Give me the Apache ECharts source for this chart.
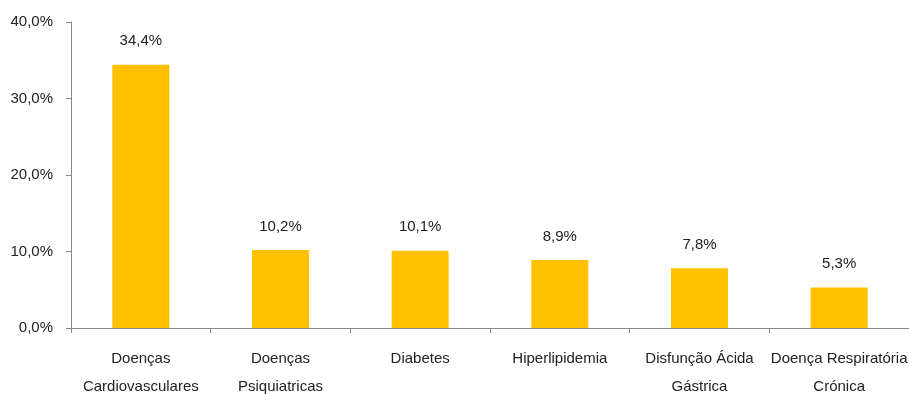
<!DOCTYPE html>
<html>
<head>
<meta charset="utf-8">
<script src="https://cdn.jsdelivr.net/npm/echarts@6/dist/echarts.min.js"></script>
<style>
  html, body { margin: 0; padding: 0; background: #fff; overflow: hidden; }
  #chart { width: 909px; height: 394px; }
</style>
</head>
<body>
<div id="chart"></div>
<script>
// Disease categories (two-line labels) and their shares in percent
const categories = [
  'Doenças\nCardiovasculares',
  'Doenças\nPsiquiatricas',
  'Diabetes',
  'Hiperlipidemia',
  'Disfunção Ácida\nGástrica',
  'Doença Respiratória\nCrónica'
];
const values = [34.4, 10.2, 10.1, 8.9, 7.8, 5.3];
const yTicks = [0, 10, 20, 30, 40];

const FONT = "'Liberation Sans Narrow', 'Arial Narrow', 'Liberation Sans', Arial, sans-serif";
const pct = v => v.toFixed(1).replace('.', ',') + '%';

const chart = echarts.init(document.getElementById('chart'), null, { width: 909, height: 394 });
chart.setOption({
  animation: false,
  grid: {
    left: 71, right: 0, top: 22, bottom: 66,
    containLabel: false,
    outerBoundsMode: 'none'
  },
  xAxis: {
    type: 'category',
    data: categories,
    axisLine: { lineStyle: { color: '#888888', width: 1 } },
    axisTick: { show: true, length: 5, lineStyle: { color: '#888888' } },
    axisLabel: {
      interval: 0,
      margin: 17,
      fontFamily: FONT,
      fontSize: 15,
      lineHeight: 28,
      color: '#222222'
    }
  },
  yAxis: {
    type: 'value',
    min: yTicks[0],
    max: yTicks[yTicks.length - 1],
    interval: 10,
    axisLine: { show: true, lineStyle: { color: '#888888', width: 1 } },
    axisTick: { show: true, length: 5, lineStyle: { color: '#888888' } },
    splitLine: { show: false },
    axisLabel: {
      margin: 18,
      fontFamily: FONT,
      fontSize: 15,
      color: '#222222',
      formatter: v => pct(v)
    }
  },
  series: [{
    type: 'bar',
    data: values,
    barWidth: 57,
    itemStyle: { color: '#FFC000' },
    label: {
      show: true,
      position: 'top',
      distance: 16,
      fontFamily: FONT,
      fontSize: 15,
      color: '#222222',
      formatter: p => pct(p.value)
    }
  }]
});
</script>
</body>
</html>
